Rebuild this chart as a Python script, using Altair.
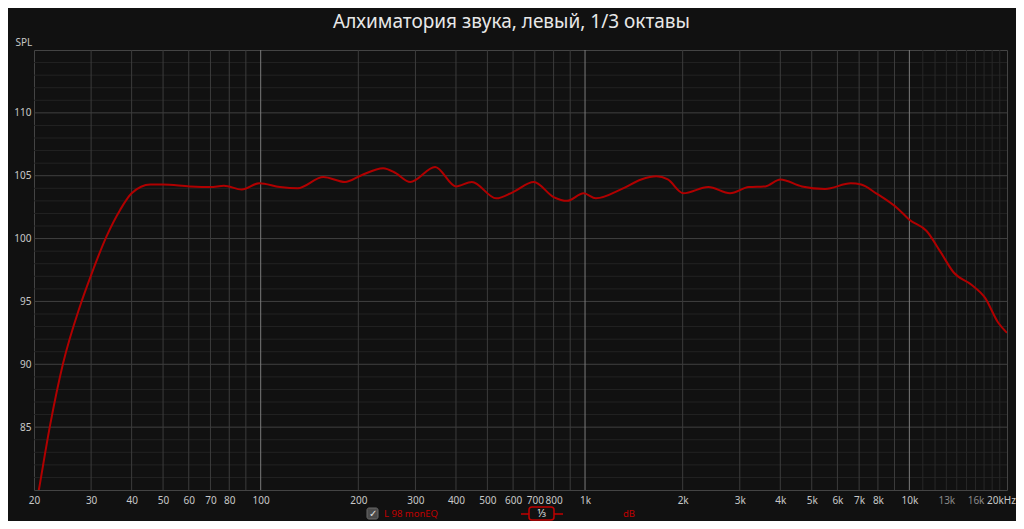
import altair as alt
import pandas as pd

# ---- data ----
freq_hz = [20, 20.7, 22.4, 24.6, 27.7, 30, 33.5, 36.9, 40, 45.7, 50, 60.4, 70, 77, 87.4, 99,
           114.6, 130, 156, 182, 203, 238.6, 261, 289, 345, 400, 448, 532, 600, 695, 800, 880,
           990, 1080, 1300, 1490, 1660, 1800, 2010, 2400, 2800, 3200, 3600, 4000, 4660, 5500,
           6600, 7100, 7900, 9200, 10000, 11300, 12500, 13700, 15500, 17100, 18800, 20000]
spl_db = [77.8, 80.0, 85.1, 90.1, 94.6, 97.1, 100.2, 102.3, 103.6, 104.3, 104.3, 104.15, 104.1,
          104.2, 103.9, 104.4, 104.1, 104.0, 104.9, 104.5, 105.0, 105.6, 105.2, 104.5, 105.7,
          104.15, 104.5, 103.2, 103.7, 104.5, 103.3, 103.0, 103.6, 103.2, 103.95, 104.7, 104.95,
          104.7, 103.6, 104.1, 103.6, 104.1, 104.15, 104.7, 104.15, 103.95, 104.4, 104.3, 103.6,
          102.4, 101.5, 100.6, 98.9, 97.3, 96.35, 95.3, 93.3, 92.5]

x_tick_values = [20, 30, 40, 50, 60, 70, 80, 100, 200, 300, 400, 500, 600, 700, 800, 1000,
                 2000, 3000, 4000, 5000, 6000, 7000, 8000, 10000, 13000, 16000, 20000]
y_tick_values = [85, 90, 95, 100, 105, 110]

grid_minor_x = [30, 40, 50, 60, 70, 80, 90, 200, 300, 400, 500, 600, 700, 800, 900,
                2000, 3000, 4000, 5000, 6000, 7000, 8000, 9000]
grid_hf_x = [11000, 12000, 13000, 14000, 15000, 16000, 17000, 18000, 19000]
grid_decade_x = [100, 1000, 10000]
grid_major_y = [85, 90, 95, 100, 105, 110]
grid_minor_y = [v for v in range(81, 115) if v % 5 != 0]

TITLE = "Алхиматория звука, левый, 1/3 октавы"
W, H = 973, 440
FONT = "Noto Sans"

xs = alt.Scale(type="log", domain=[20, 20000], nice=False)
ys = alt.Scale(domain=[80, 115], nice=False)

x_axis = alt.Axis(values=x_tick_values, title=None, grid=False, ticks=False, domain=False,
                  labelPadding=5, labelFontSize=10, labelFont=FONT,
                  labelColor={
                      "condition": {"test": "datum.value == 13000 || datum.value == 16000",
                                    "value": "#8a8a8a"},
                      "value": "#c8c8c8"},
                  labelOffset={"condition": {"test": "datum.value == 20000", "value": -6},
                               "value": 0},
                  labelOverlap=False, labelFlush=False,
                  labelExpr="datum.value == 20000 ? '20kHz' : (datum.value >= 1000 ? (datum.value/1000) + 'k' : datum.value)")
y_axis = alt.Axis(values=y_tick_values, title="SPL", grid=False, ticks=False, domain=False,
                  labelPadding=3, labelFontSize=10, labelFont=FONT, labelColor="#c8c8c8",
                  titleAngle=0, titleAlign="left", titleBaseline="middle", titleX=-19,
                  titleY=-8, titleFontSize=10, titleFont=FONT, titleFontWeight="normal",
                  titleColor="#c8c8c8")

curve = pd.DataFrame({"f": freq_hz, "db": spl_db})

def vrules(vals, color):
    return alt.Chart(pd.DataFrame({"f": vals})).mark_rule(color=color, strokeWidth=1).encode(
        x=alt.X("f:Q", scale=xs, axis=x_axis))

def hrules(vals, color):
    return alt.Chart(pd.DataFrame({"db": vals})).mark_rule(color=color, strokeWidth=1).encode(
        y=alt.Y("db:Q", scale=ys, axis=y_axis))

line = alt.Chart(curve).mark_line(color="#b00000", strokeWidth=2, interpolate="monotone",
                                  clip=True).encode(
    x=alt.X("f:Q", scale=xs, axis=x_axis),
    y=alt.Y("db:Q", scale=ys, axis=y_axis),
)

# bottom legend decorations
LY = H + 24

def txt(s, x, color, size=9.5, align="left"):
    return alt.Chart(pd.DataFrame({"t": [s]})).mark_text(
        color=color, fontSize=size, font=FONT, align=align, baseline="middle").encode(
        x=alt.value(x), y=alt.value(LY), text="t:N")

check_box = alt.Chart(pd.DataFrame({"a": [1]})).mark_rect(
    fill="#4a4a4a", stroke="#6a6a6a", cornerRadius=2).encode(
    x=alt.value(333), x2=alt.value(344), y=alt.value(LY - 6), y2=alt.value(LY + 5))
check_mark = txt("✓", 338.5, "#e0e0e0", 9.5, "center")
legend_name = txt("L 98 monEQ", 350, "#c00000", 9.5)
oct_box = alt.Chart(pd.DataFrame({"a": [1]})).mark_rect(
    fill="#111111", stroke="#c00000", strokeWidth=1.5, cornerRadius=3).encode(
    x=alt.value(495), x2=alt.value(520), y=alt.value(LY - 7), y2=alt.value(LY + 6))
oct_l = alt.Chart(pd.DataFrame({"a": [1]})).mark_rule(color="#c00000", strokeWidth=1.5).encode(
    x=alt.value(487), x2=alt.value(495), y=alt.value(LY))
oct_r = alt.Chart(pd.DataFrame({"a": [1]})).mark_rule(color="#c00000", strokeWidth=1.5).encode(
    x=alt.value(520), x2=alt.value(529), y=alt.value(LY))
oct_txt = txt("1⁄3", 507.5, "#e0e0e0", 10.5, "center")
db_txt = txt("dB", 595, "#c00000", 9.5, "center")

chart = alt.layer(
    hrules(grid_minor_y, "#232323"),
    vrules(grid_hf_x, "#282828"),
    hrules(grid_major_y, "#404040"),
    vrules(grid_minor_x, "#3c3c3c"),
    vrules(grid_decade_x, "#7a7a7a"),
    line,
    check_box, check_mark, legend_name, oct_box, oct_l, oct_r, oct_txt, db_txt,
).properties(
    width=W, height=H,
    title=alt.TitleParams(TITLE, anchor="middle", fontSize=19, font=FONT, fontWeight="normal",
                          color="#e8e8e8", offset=5, dx=-9),
    autosize=alt.AutoSizeParams(type="none"),
    padding={"left": 26, "top": 42, "right": 9, "bottom": 31},
    background="#111111",
).configure_view(stroke="#444444", fill="#111111")

chart.save("out.html", embed_options={"renderer": "svg", "actions": False})
